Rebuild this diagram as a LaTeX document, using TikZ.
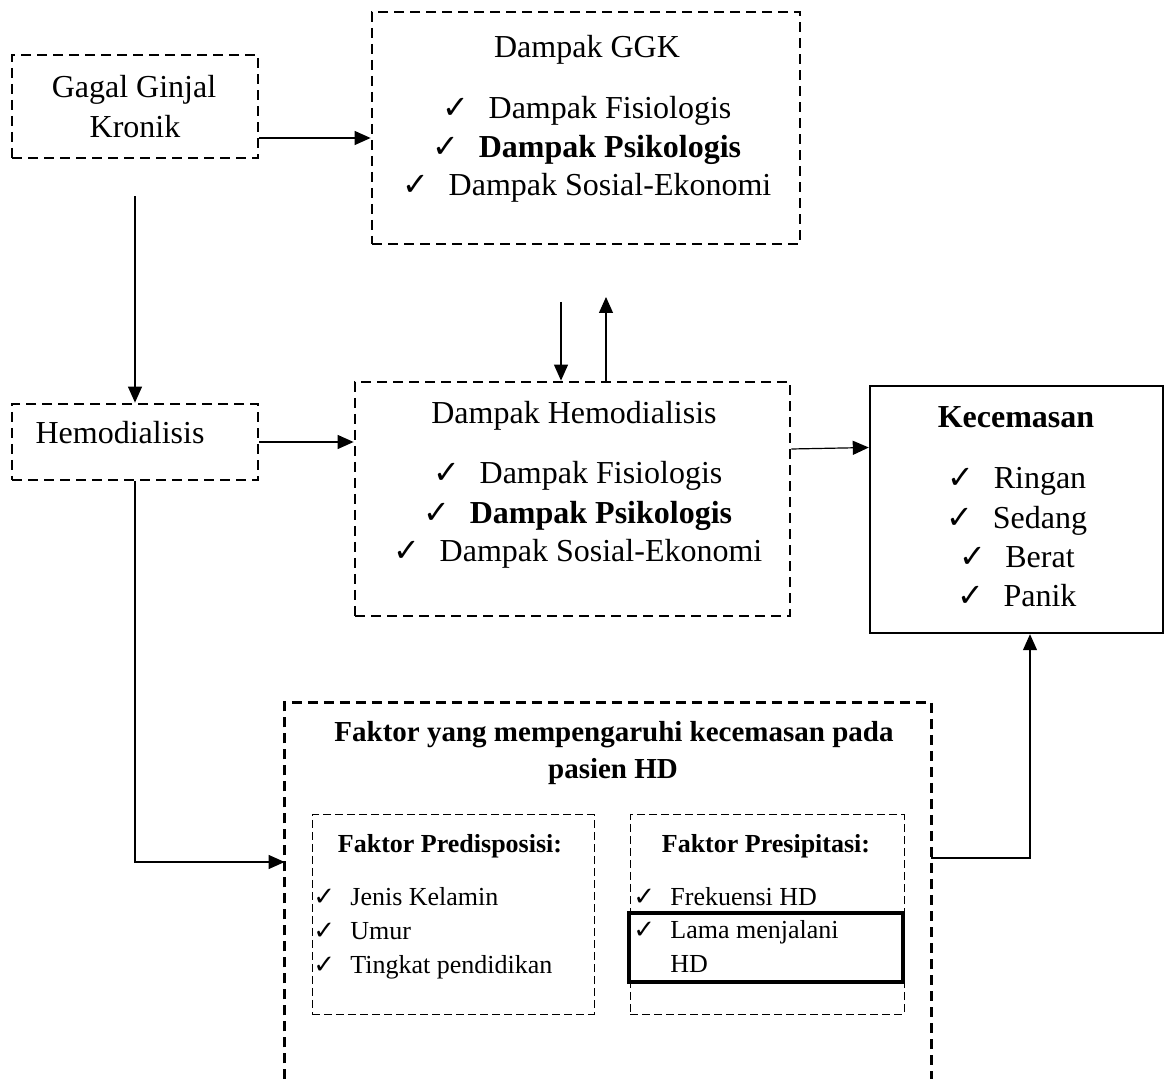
\documentclass[tikz,border=0pt]{standalone}
\usepackage{fontspec}
\setmainfont{Liberation Serif}
\newfontfamily\symfont{DejaVu Sans}
\usetikzlibrary{arrows.meta}
\newcommand{\ck}{{\symfont ✓}}
\newcommand{\cit}[1]{\makebox[23pt][l]{\ck}#1}
\newcommand{\lit}[1]{\makebox[18.5pt][l]{\ck}#1}
\tikzset{
  dbox/.style={draw=black, line width=1.4pt, dash pattern=on 5pt off 3pt, inner sep=0pt},
  thinbox/.style={draw=black, line width=0.5pt, dash pattern=on 4pt off 2pt, inner sep=0pt},
  sbox/.style={draw=black, line width=1.2pt, inner sep=0pt},
  hbox/.style={draw=black, line width=1.6pt, inner sep=0pt},
  arr/.style={draw=black, line width=0.6pt, -{Triangle[length=8pt,width=7pt]}},
  big/.style={font=\fontsize{16}{20}\selectfont, inner sep=0pt, anchor=base},
  bigb/.style={big, font=\fontsize{16}{20}\selectfont\bfseries},
  mid/.style={font=\fontsize{14.5}{19}\selectfont\bfseries, inner sep=0pt, anchor=base},
  sml/.style={font=\fontsize{13}{16}\selectfont, inner sep=0pt, anchor=base west},
  smlb/.style={font=\fontsize{13}{16}\selectfont\bfseries, inner sep=0pt, anchor=base},
}
\begin{document}
\begin{tikzpicture}[x=0.5pt,y=-0.5pt]
  \useasboundingbox (0,0) rectangle (1168,1079);

  % boxes
  \node[dbox, minimum width=123pt, minimum height=51.5pt] (gagal) at (135,106.5) {};
  \node[dbox, minimum width=214pt, minimum height=116pt] (ggk) at (586,128) {};
  \node[dbox, minimum width=123pt, minimum height=38pt] (hemo) at (135,442) {};
  \node[dbox, minimum width=217.5pt, minimum height=117pt] (dhemo) at (572.5,499) {};
  \node[sbox, minimum width=146.5pt, minimum height=123.5pt] (kec) at (1016.5,509.5) {};
  \node[minimum width=323pt, minimum height=188pt, inner sep=0pt] (fak) at (608,891) {};
  \draw[dbox] (fak.south west) -- (fak.north west) -- (fak.north east) -- (fak.south east);
  \node[thinbox, minimum width=141pt, minimum height=99.5pt] (pred) at (453,914.5) {};
  \node[thinbox, minimum width=137pt, minimum height=99.5pt] (pres) at (767,914.5) {};
  \node[hbox, minimum width=137pt, minimum height=34.5pt] (lama) at (766,947.5) {};

  % texts
  \node[big] (t1) at (134,98) {Gagal Ginjal};
  \node[big] (t2) at (135,138) {Kronik};

  \node[big] (t3) at (587,58) {Dampak GGK};
  \node[big] (t4) at (587,119) {\cit{Dampak Fisiologis}};
  \node[big] (t5) at (587,158) {\cit{\textbf{Dampak Psikologis}}};
  \node[big] (t6) at (587,196) {\cit{Dampak Sosial-Ekonomi}};

  \node[big] (t7) at (120,444) {Hemodialisis};

  \node[big] (t8) at (574,424) {Dampak Hemodialisis};
  \node[big] (t9) at (578,484) {\cit{Dampak Fisiologis}};
  \node[big] (t10) at (578,524) {\cit{\textbf{Dampak Psikologis}}};
  \node[big] (t11) at (578,562) {\cit{Dampak Sosial-Ekonomi}};

  \node[bigb] (t12) at (1016,428) {Kecemasan};
  \node[big] (t13) at (1017,489) {\cit{Ringan}};
  \node[big] (t14) at (1017,529) {\cit{Sedang}};
  \node[big] (t15) at (1017,568) {\cit{Berat}};
  \node[big] (t16) at (1017,607) {\cit{Panik}};

  \node[mid] (t17) at (614,741) {Faktor yang mempengaruhi kecemasan pada};
  \node[mid] (t18) at (613,779) {pasien HD};

  \node[smlb] (t19) at (450,852) {Faktor Predisposisi:};
  \node[sml] (t20) at (313,906) {\lit{Jenis Kelamin}};
  \node[sml] (t21) at (313,939) {\lit{Umur}};
  \node[sml] (t22) at (313,973) {\lit{Tingkat pendidikan}};

  \node[smlb] (t23) at (766,852) {Faktor Presipitasi:};
  \node[sml] (t24) at (633,906) {\lit{Frekuensi HD}};
  \node[sml] (t25) at (633,938) {\lit{Lama menjalani}};
  \node[sml] (t26) at (670,972) {HD};

  % connectors
  \coordinate (d1) at (561,302);
  \coordinate (u1) at (606,297);
  \draw[arr] ([yshift=-15.75pt]gagal.east) -- ([yshift=-15.75pt]gagal.east -| ggk.west);
  \draw[arr] ([yshift=-18.5pt]gagal.south) -- (hemo.north);
  \draw[arr] (hemo.east) -- (hemo.east -| dhemo.west);
  \draw[arr] (d1) -- (d1 |- dhemo.north);
  \draw[arr] (u1 |- dhemo.north) -- (u1);
  \draw[arr] ([yshift=25pt]dhemo.east) -- ([yshift=31pt]kec.west);
  \draw[arr] (hemo.south) |- ([yshift=14.5pt]fak.west);
  \draw[arr] ([yshift=16.5pt]fak.east) -| ([xshift=6.75pt]kec.south);
\end{tikzpicture}
\end{document}
